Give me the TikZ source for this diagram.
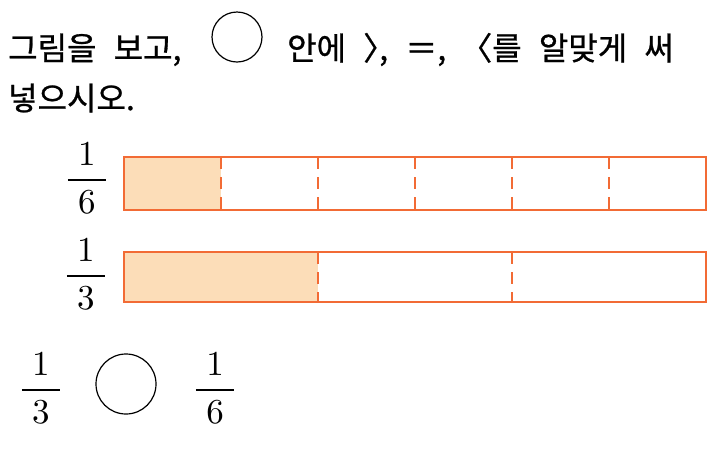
\documentclass[tikz,border=0pt]{standalone}
\usepackage{amsmath}
\usepackage{fontspec}
\newfontfamily\kr[WordSpace=2.4,FakeBold=0.8]{Noto Sans CJK KR}
\newfontfamily\krhalf[RawFeature=+halt,FakeBold=0.8]{Noto Sans CJK KR}
\definecolor{barline}{HTML}{F26B35}
\definecolor{barfill}{HTML}{FCDDB8}
\newcommand{\barfrac}[2]{$\genfrac{}{}{0.6pt}{0}{\hspace{3pt}#1\hspace{3pt}}{\hspace{3pt}#2\hspace{3pt}}$}

\begin{document}
\begin{tikzpicture}[x=1pt,y=-1pt,
    bar/.style={draw=barline,line width=2.4pt},
    cut/.style={draw=barline,line width=2.4pt,dash pattern=on 12pt off 8pt},
    frac/.style={inner sep=0pt,scale=3.5},
    txt/.style={inner sep=0pt,anchor=base west,font=\kr\fontsize{32}{40}\selectfont},
    blank/.style={draw,circle,line width=1.2pt,inner sep=0pt}]
    \useasboundingbox (0,0) rectangle (728,451);
    % question
    \node[txt] (head) at (8,60) {그림을 보고,};
    \node[blank,minimum size=50pt] (box) at (237,37) {};
    \node[txt] (rest) at (287,60) {안에 {\krhalf 〉}, ＝,\hspace{14pt}〈를 알맞게 써};
    \node[txt] (tail) at (8,110) {넣으시오.};
    % sixths
    \node[frac] (sixth) at (87,178) {\barfrac{1}{6}};
    \fill[barfill] (124,157) rectangle (221,210);
    \foreach \k in {1,...,5}
        \draw[cut] (124+97*\k,157) -- (124+97*\k,210);
    \draw[bar] (124,157) rectangle (706,210);
    % thirds
    \node[frac] (third) at (86,274) {\barfrac{1}{3}};
    \fill[barfill] (124,252) rectangle (318,302);
    \foreach \k in {1,2}
        \draw[cut] (124+194*\k,252) -- (124+194*\k,302);
    \draw[bar] (124,252) rectangle (706,302);
    % compare
    \node[frac] (left) at (41,388) {\barfrac{1}{3}};
    \node[blank,minimum size=60pt] (answer) at (126,384) {};
    \node[frac] (right) at (215,388) {\barfrac{1}{6}};
\end{tikzpicture}
\end{document}
